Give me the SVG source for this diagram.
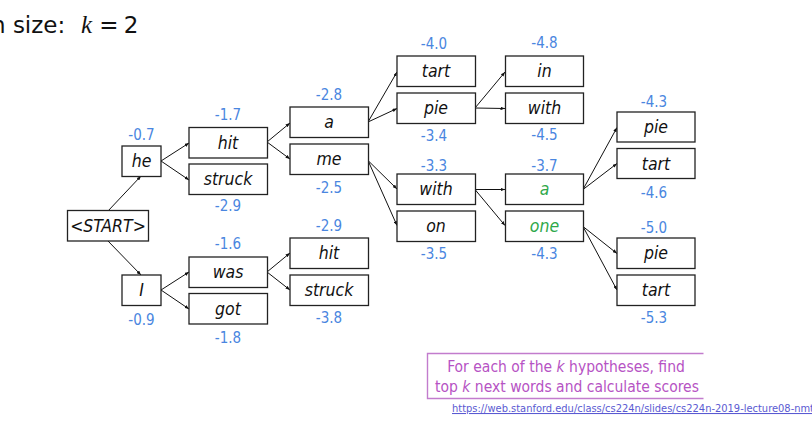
<svg xmlns="http://www.w3.org/2000/svg" width="812" height="431" viewBox="0 0 812 431">
<style>
.box{fill:#fff;stroke:#222;stroke-width:1.3}
.w{font-family:"DejaVu Sans Condensed","DejaVu Sans",sans-serif;font-style:italic;font-size:17.5px;fill:#111;text-anchor:middle}
.g{fill:#2ea84a}
.s{font-family:"DejaVu Sans Condensed","DejaVu Sans",sans-serif;font-size:15px;fill:#4a86e0;text-anchor:middle}
.c line{stroke:#111;stroke-width:1;marker-end:url(#ah)}
.t{font-family:"DejaVu Sans","Liberation Sans",sans-serif;font-size:23px;fill:#111}
.p{font-family:"DejaVu Sans Condensed","DejaVu Sans",sans-serif;font-size:15.5px;fill:#b653c4;text-anchor:middle}
</style>
<defs>
<marker id="ah" viewBox="0 0 10 10" refX="10" refY="5" markerWidth="4.5" markerHeight="3.5" orient="auto" markerUnits="userSpaceOnUse" preserveAspectRatio="none">
<path d="M0,0 L10,5 L0,10 z" fill="#111"/>
</marker>
</defs>
<rect width="812" height="431" fill="#fff"/>
<g id="title">
<text class="t" x="-9" y="33">n size:</text>
<text x="81" y="33" font-family="Liberation Serif,serif" font-style="italic" font-size="25px" fill="#111">k</text>
<text class="t" x="109" y="33" text-anchor="middle">=</text>
<text class="t" x="131" y="33" text-anchor="middle">2</text>
</g>
<g id="connectors" class="c">
<line x1="108" y1="211" x2="141" y2="176"/>
<line x1="108" y1="241" x2="141" y2="275"/>
<line x1="161" y1="161" x2="189" y2="143"/>
<line x1="161" y1="161" x2="189" y2="180"/>
<line x1="161" y1="290" x2="189" y2="272"/>
<line x1="161" y1="290" x2="189" y2="309"/>
<line x1="267" y1="142" x2="290" y2="123"/>
<line x1="267" y1="142" x2="290" y2="159"/>
<line x1="267" y1="272" x2="290" y2="253"/>
<line x1="267" y1="272" x2="290" y2="290"/>
<line x1="368" y1="122" x2="397" y2="72"/>
<line x1="368" y1="122" x2="397" y2="108.5"/>
<line x1="368" y1="160.5" x2="397" y2="189"/>
<line x1="368" y1="160.5" x2="397" y2="225.5"/>
<line x1="475" y1="108" x2="505" y2="72"/>
<line x1="475" y1="108" x2="505" y2="108.5"/>
<line x1="475" y1="189.5" x2="505" y2="189.5"/>
<line x1="475" y1="189.5" x2="505" y2="225.5"/>
<line x1="583" y1="189.5" x2="617" y2="127.5"/>
<line x1="583" y1="189.5" x2="617" y2="163.5"/>
<line x1="583" y1="226.5" x2="617" y2="253.5"/>
<line x1="583" y1="226.5" x2="617" y2="290"/>
</g>
<g id="n-start"><rect class="box" x="67.5" y="210.5" width="81" height="30.5"/><text class="w" x="108" y="231.5">&lt;START&gt;</text></g>
<g id="n-he"><rect class="box" x="122" y="146" width="39" height="30.5"/><text class="w" x="141.5" y="167">he</text><text class="s" x="141.5" y="140">-0.7</text></g>
<g id="n-I"><rect class="box" x="122" y="275" width="39" height="30.5"/><text class="w" x="141.5" y="296">I</text><text class="s" x="141.5" y="325">-0.9</text></g>
<g id="n-hit1"><rect class="box" x="189" y="127.5" width="78.5" height="30.5"/><text class="w" x="228" y="148.5">hit</text><text class="s" x="228" y="120">-1.7</text></g>
<g id="n-struck1"><rect class="box" x="189" y="164" width="78.5" height="30.5"/><text class="w" x="228" y="185">struck</text><text class="s" x="228" y="211">-2.9</text></g>
<g id="n-was"><rect class="box" x="189" y="257" width="78.5" height="30.5"/><text class="w" x="228" y="278">was</text><text class="s" x="228" y="249">-1.6</text></g>
<g id="n-got"><rect class="box" x="189" y="293.5" width="78.5" height="30.5"/><text class="w" x="228" y="314.5">got</text><text class="s" x="228" y="343">-1.8</text></g>
<g id="n-a1"><rect class="box" x="290" y="107" width="78.5" height="30.5"/><text class="w" x="329" y="128">a</text><text class="s" x="329" y="100">-2.8</text></g>
<g id="n-me"><rect class="box" x="290" y="144" width="78.5" height="30.5"/><text class="w" x="329" y="165">me</text><text class="s" x="329" y="193">-2.5</text></g>
<g id="n-hit2"><rect class="box" x="290" y="238" width="78.5" height="30.5"/><text class="w" x="329" y="259">hit</text><text class="s" x="329" y="231">-2.9</text></g>
<g id="n-struck2"><rect class="box" x="290" y="275" width="78.5" height="30.5"/><text class="w" x="329" y="296">struck</text><text class="s" x="329" y="323">-3.8</text></g>
<g id="n-tart1"><rect class="box" x="397" y="56" width="78.5" height="30.5"/><text class="w" x="436" y="77">tart</text><text class="s" x="434" y="49">-4.0</text></g>
<g id="n-pie1"><rect class="box" x="397" y="93" width="78.5" height="30.5"/><text class="w" x="436" y="114">pie</text><text class="s" x="434" y="141">-3.4</text></g>
<g id="n-with1"><rect class="box" x="397" y="174" width="78.5" height="30.5"/><text class="w" x="436" y="195">with</text><text class="s" x="434" y="171">-3.3</text></g>
<g id="n-on"><rect class="box" x="397" y="211" width="78.5" height="30.5"/><text class="w" x="436" y="232">on</text><text class="s" x="434" y="258.5">-3.5</text></g>
<g id="n-in"><rect class="box" x="505.5" y="56" width="78" height="30.5"/><text class="w" x="544.5" y="77">in</text><text class="s" x="544.5" y="47.5">-4.8</text></g>
<g id="n-with2"><rect class="box" x="505.5" y="93" width="78" height="30.5"/><text class="w" x="544.5" y="114">with</text><text class="s" x="544.5" y="140">-4.5</text></g>
<g id="n-a2"><rect class="box" x="505.5" y="174" width="78" height="30.5"/><text class="w g" x="544.5" y="195">a</text><text class="s" x="544.5" y="171">-3.7</text></g>
<g id="n-one"><rect class="box" x="505.5" y="211" width="78" height="30.5"/><text class="w g" x="544.5" y="232">one</text><text class="s" x="544.5" y="258.5">-4.3</text></g>
<g id="n-pie2"><rect class="box" x="617" y="112" width="78" height="30"/><text class="w" x="656" y="133">pie</text><text class="s" x="654" y="106.5">-4.3</text></g>
<g id="n-tart2"><rect class="box" x="617" y="148.5" width="78" height="30"/><text class="w" x="656" y="169.5">tart</text><text class="s" x="654" y="197.5">-4.6</text></g>
<g id="n-pie3"><rect class="box" x="617" y="238" width="78" height="30.5"/><text class="w" x="656" y="259">pie</text><text class="s" x="654" y="232.5">-5.0</text></g>
<g id="n-tart3"><rect class="box" x="617" y="275" width="78" height="30.5"/><text class="w" x="656" y="296">tart</text><text class="s" x="654" y="323">-5.3</text></g>
<g id="callout">
<path d="M703.5,353.5 H427.5 V398.5 H703.5" fill="none" stroke="#c27ccd" stroke-width="1.4"/>
<text class="p" x="566" y="372">For each of the <tspan font-style="italic">k</tspan> hypotheses, find</text>
<text class="p" x="567" y="391.5">top <tspan font-style="italic">k</tspan> next words and calculate scores</text>
</g>
<g id="url">
<text x="452" y="412" font-family="DejaVu Sans Condensed,DejaVu Sans,sans-serif" font-size="10.5px" fill="#5a5ad2" text-decoration="underline" textLength="362" lengthAdjust="spacingAndGlyphs">https://web.stanford.edu/class/cs224n/slides/cs224n-2019-lecture08-nmt</text>
</g>
</svg>
